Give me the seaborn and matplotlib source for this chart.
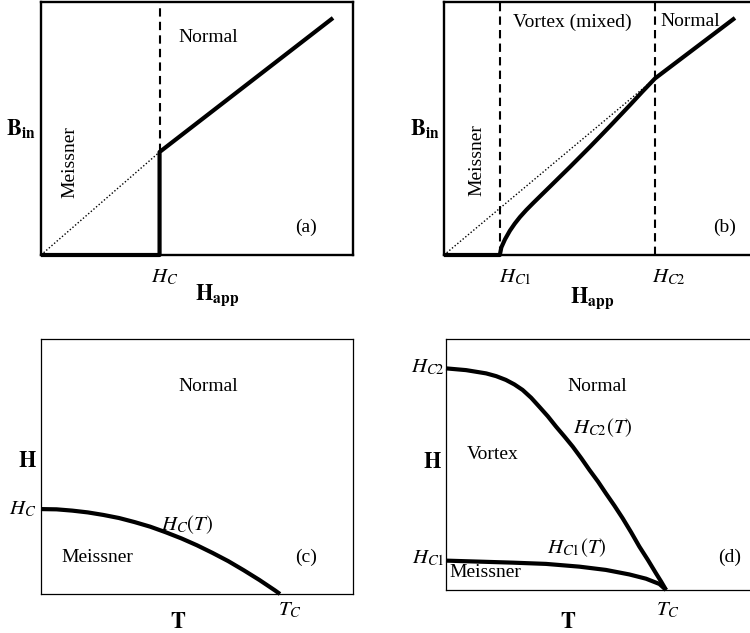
import matplotlib
matplotlib.use("Agg")
import matplotlib.pyplot as plt
import seaborn as sns
import pandas as pd

# ---------------- data ----------------
# panel (a): type-I superconductor, B_in vs H_app
a_H = [0.0, 0.38, 0.38, 0.936]
a_B = [0.0, 0.0, 0.407, 0.937]
a_Hc = 0.38
a_Bc = 0.407

# panel (b): type-II superconductor, B_in vs H_app
b_H = [0.0, 0.183, 0.188, 0.2, 0.216, 0.232, 0.249, 0.27, 0.293, 0.32, 0.348,
       0.38, 0.413, 0.446, 0.479, 0.512, 0.544, 0.577, 0.61, 0.65, 0.692, 0.954]
b_B = [0.0, 0.0, 0.03, 0.062, 0.096, 0.124, 0.15, 0.178, 0.206, 0.238, 0.271,
       0.309, 0.348, 0.388, 0.428, 0.469, 0.509, 0.551, 0.593, 0.645, 0.698, 0.937]
b_Hc1 = 0.183
b_Hc2 = 0.692
b_Bc2 = 0.698

# panel (c): H_C(T)
c_T = [0.0, 0.05, 0.1, 0.15, 0.2, 0.25, 0.3, 0.35, 0.4, 0.45, 0.5, 0.55,
       0.6, 0.65, 0.7, 0.75, 0.766]
c_H = [0.333, 0.332, 0.327, 0.32, 0.31, 0.298, 0.282, 0.264, 0.242, 0.218,
       0.191, 0.161, 0.129, 0.093, 0.055, 0.014, 0.0]

# panel (d): H_C1(T), H_C2(T)
d_T2 = [0.0, 0.066, 0.132, 0.165, 0.197, 0.225, 0.252, 0.28, 0.307, 0.335,
        0.362, 0.39, 0.417, 0.445, 0.472, 0.5, 0.526, 0.554, 0.581, 0.609,
        0.636, 0.664, 0.691, 0.708, 0.724]
d_H2 = [0.883, 0.876, 0.863, 0.852, 0.837, 0.819, 0.797, 0.766, 0.73, 0.692,
        0.651, 0.611, 0.571, 0.525, 0.478, 0.432, 0.385, 0.336, 0.286, 0.23,
        0.173, 0.12, 0.066, 0.033, 0.0]
d_T1 = [0.0, 0.11, 0.219, 0.329, 0.439, 0.526, 0.603, 0.658, 0.702, 0.724]
d_H1 = [0.117, 0.113, 0.109, 0.104, 0.093, 0.08, 0.062, 0.045, 0.024, 0.0]

# ---------------- style ----------------
sns.set_style("white")
plt.rcParams["font.family"] = ["Liberation Serif", "DejaVu Serif"]
plt.rcParams["mathtext.fontset"] = "stix"
plt.rcParams["text.color"] = "black"

W, H = 750, 633
fig = plt.figure(figsize=(7.5, 6.33), dpi=100)

def add_ax(x0, x1, ytop, ybot):
    return fig.add_axes([x0 / W, (H - ybot) / H, (x1 - x0) / W, (ybot - ytop) / H])

axa = add_ax(41, 353, 2, 255)
axb = add_ax(444, 749, 2, 255)
axc = add_ax(41, 353, 339, 594)
axd = add_ax(446, 750, 339, 590)

for ax in (axa, axb, axc, axd):
    ax.set_xlim(0, 1)
    ax.set_ylim(0, 1)

for ax, lw in ((axa, 1.7), (axb, 1.7), (axc, 0.9), (axd, 0.9)):
    for s in ax.spines.values():
        s.set_linewidth(lw)
        s.set_color("black")
for ax in (axb, axd):
    ax.spines["right"].set_visible(False)

THICK = 3.0
FS = 14
BFS = 16
IFS = 15

def curve(ax, x, y, **kw):
    df = pd.DataFrame({"x": x, "y": y})
    sns.lineplot(data=df, x="x", y="y", ax=ax, sort=False, estimator=None,
                 legend=False, **kw)

def thick(ax, x, y):
    curve(ax, x, y, color="black", lw=THICK, clip_on=False,
          solid_capstyle="butt", solid_joinstyle="round")

# ---- panel (a) ----
curve(axa, [0, a_Hc], [0, a_Bc], color="black", lw=1.0, linestyle=(0, (1, 1.5)))
curve(axa, [a_Hc, a_Hc], [a_Bc, 1.0], color="black", lw=1.5, linestyle=(0, (4, 2.5)))
thick(axa, a_H, a_B)
axa.text(0.535, 0.858, "Normal", fontsize=FS, ha="center", va="center")
axa.text(0.093, 0.368, "Meissner", fontsize=FS, ha="center", va="center", rotation=90)
axa.text(0.849, 0.111, "(a)", fontsize=FS, ha="center", va="center")
axa.text(-0.065, 0.50, r"$\mathbf{B}_{\mathbf{in}}$", fontsize=BFS, ha="center", va="center")
axa.text(a_Hc + 0.017, -0.087, r"$H_C$", fontsize=IFS, ha="center", va="center")
axa.text(0.564, -0.158, r"$\mathbf{H}_{\mathbf{app}}$", fontsize=BFS, ha="center", va="center")

# ---- panel (b) ----
curve(axb, [0, b_Hc2], [0, b_Bc2], color="black", lw=1.0, linestyle=(0, (1, 1.5)))
for xv in (b_Hc1, b_Hc2):
    curve(axb, [xv, xv], [0, 1.0], color="black", lw=1.5, linestyle=(0, (4, 2.5)))
thick(axb, b_H, b_B)
axb.text(0.42, 0.921, "Vortex (mixed)", fontsize=FS, ha="center", va="center")
axb.text(0.807, 0.921, "Normal", fontsize=FS, ha="center", va="center")
axb.text(0.108, 0.375, "Meissner", fontsize=FS, ha="center", va="center", rotation=90)
axb.text(0.921, 0.111, "(b)", fontsize=FS, ha="center", va="center")
axb.text(-0.062, 0.50, r"$\mathbf{B}_{\mathbf{in}}$", fontsize=BFS, ha="center", va="center")
axb.text(b_Hc1 + 0.05, -0.087, r"$H_{\mathit{C1}}$", fontsize=IFS, ha="center", va="center")
axb.text(b_Hc2 + 0.045, -0.087, r"$H_{\mathit{C2}}$", fontsize=IFS, ha="center", va="center")
axb.text(0.485, -0.17, r"$\mathbf{H}_{\mathbf{app}}$", fontsize=BFS, ha="center", va="center")

# ---- panel (c) ----
thick(axc, c_T, c_H)
axc.text(0.535, 0.812, "Normal", fontsize=FS, ha="center", va="center")
axc.text(-0.042, 0.518, r"$\mathbf{H}$", fontsize=BFS, ha="center", va="center")
axc.text(-0.058, 0.33, r"$H_C$", fontsize=IFS, ha="center", va="center")
axc.text(0.468, 0.27, r"$H_C(T)$", fontsize=IFS, ha="center", va="center")
axc.text(0.18, 0.145, "Meissner", fontsize=FS, ha="center", va="center")
axc.text(0.849, 0.145, "(c)", fontsize=FS, ha="center", va="center")
axc.text(0.798, -0.063, r"$T_C$", fontsize=IFS, ha="center", va="center")
axc.text(0.439, -0.114, r"$\mathbf{T}$", fontsize=BFS, ha="center", va="center")

# ---- panel (d) ----
thick(axd, d_T2, d_H2)
thick(axd, d_T1, d_H1)
axd.text(0.497, 0.809, "Normal", fontsize=FS, ha="center", va="center")
axd.text(0.516, 0.645, r"$H_{\mathit{C2}}(T)$", fontsize=IFS, ha="center", va="center")
axd.text(0.155, 0.538, "Vortex", fontsize=FS, ha="center", va="center")
axd.text(-0.046, 0.506, r"$\mathbf{H}$", fontsize=BFS, ha="center", va="center")
axd.text(-0.005, 0.885, r"$H_{\mathit{C2}}$", fontsize=IFS, ha="right", va="center")
axd.text(0.431, 0.167, r"$H_{\mathit{C1}}(T)$", fontsize=IFS, ha="center", va="center")
axd.text(-0.005, 0.127, r"$H_{\mathit{C1}}$", fontsize=IFS, ha="right", va="center")
axd.text(0.128, 0.068, "Meissner", fontsize=FS, ha="center", va="center")
axd.text(0.934, 0.131, "(d)", fontsize=FS, ha="center", va="center")
axd.text(0.73, -0.08, r"$T_C$", fontsize=IFS, ha="center", va="center")
axd.text(0.401, -0.131, r"$\mathbf{T}$", fontsize=BFS, ha="center", va="center")

for ax in (axa, axb, axc, axd):
    ax.set_xticks([])
    ax.set_yticks([])
    ax.set_xlabel("")
    ax.set_ylabel("")

fig.savefig("out.png", dpi=100)
